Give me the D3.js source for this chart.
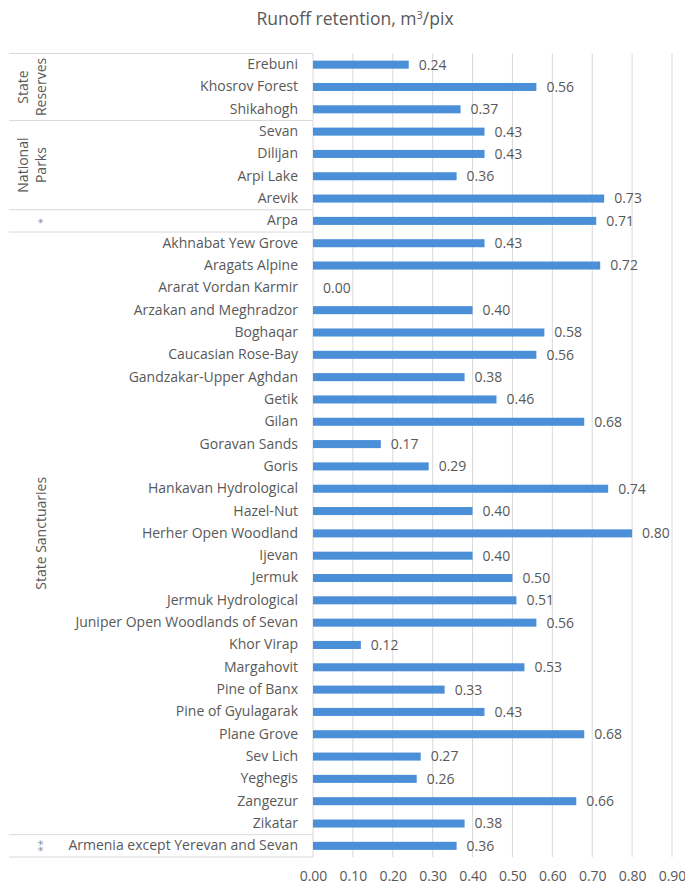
<!DOCTYPE html>
<html>
<head>
<meta charset="utf-8">
<script src="https://cdn.jsdelivr.net/npm/d3@7"></script>
<style>
  html, body { margin: 0; padding: 0; background: #fff; }
  text { font-family: "Open Sans", "Lato", sans-serif; fill: #595959; }
</style>
</head>
<body>
<svg id="chart" width="685" height="888"></svg>
<script>
const categories = [
  "Erebuni", "Khosrov Forest", "Shikahogh",
  "Sevan", "Dilijan", "Arpi Lake", "Arevik",
  "Arpa",
  "Akhnabat Yew Grove", "Aragats Alpine", "Ararat Vordan Karmir", "Arzakan and Meghradzor",
  "Boghaqar", "Caucasian Rose-Bay", "Gandzakar-Upper Aghdan", "Getik", "Gilan",
  "Goravan Sands", "Goris", "Hankavan Hydrological", "Hazel-Nut", "Herher Open Woodland",
  "Ijevan", "Jermuk", "Jermuk Hydrological", "Juniper Open Woodlands of Sevan", "Khor Virap",
  "Margahovit", "Pine of Banx", "Pine of Gyulagarak", "Plane Grove", "Sev Lich",
  "Yeghegis", "Zangezur", "Zikatar",
  "Armenia except Yerevan and Sevan"
];
const values = [
  0.24, 0.56, 0.37,
  0.43, 0.43, 0.36, 0.73,
  0.71,
  0.43, 0.72, 0.00, 0.40,
  0.58, 0.56, 0.38, 0.46, 0.68,
  0.17, 0.29, 0.74, 0.40, 0.80,
  0.40, 0.50, 0.51, 0.56, 0.12,
  0.53, 0.33, 0.43, 0.68, 0.27,
  0.26, 0.66, 0.38,
  0.36
];
const groupNames = [["State", "Reserves"], ["National", "Parks"], ["*"], ["State Sanctuaries"], ["**"]];
const groupCounts = [3, 4, 1, 27, 1];
const xTicks = [0, 0.1, 0.2, 0.3, 0.4, 0.5, 0.6, 0.7, 0.8, 0.9];
const title = "Runoff retention, m";

const svg = d3.select("#chart");
const x = d3.scaleLinear().domain([0, 0.9]).range([313, 672]);
const y = d3.scaleBand().domain(categories).range([53.5, 857]).paddingInner(0.64).paddingOuter(0.32);
const step = y.step();
const top0 = y.range()[0], bot0 = y.range()[1];
const grid = "#d9d9d9";
const fs = "14px";

// title
const t = svg.append("text").attr("x", 355).attr("y", 25).attr("text-anchor", "middle")
  .style("font-size", "17.5px").text(title);
t.append("tspan").attr("dy", -6).style("font-size", "11px").text("3");
t.append("tspan").attr("dy", 6).text("/pix");

// gridlines
svg.append("g").selectAll("line").data(xTicks).join("line")
  .attr("x1", d => x(d)).attr("x2", d => x(d))
  .attr("y1", top0).attr("y2", bot0)
  .attr("stroke", grid).attr("stroke-width", 1);

// x axis labels
const xAxis = d3.axisBottom(x).tickValues(xTicks).tickFormat(d3.format(".2f")).tickSize(0).tickPadding(0);
const gx = svg.append("g").attr("transform", `translate(0,${bot0 + 14})`).call(xAxis);
gx.select(".domain").remove();
gx.selectAll("text").style("font-size", fs).attr("fill", "#595959").style("font-family", "'Open Sans', sans-serif");

// y axis labels
const yAxis = d3.axisLeft(y).tickSize(0).tickPadding(15);
const gy = svg.append("g").attr("transform", `translate(${x(0)},0)`).call(yAxis);
gy.select(".domain").remove();
gy.selectAll("text").style("font-size", fs).attr("fill", "#595959").style("font-family", "'Open Sans', sans-serif");

// group separator lines
const bounds = [0];
groupCounts.forEach((c, i) => bounds.push(bounds[i] + c));
svg.append("g").selectAll("line").data(bounds).join("line")
  .attr("x1", 9).attr("x2", x(0))
  .attr("y1", d => top0 + d * step).attr("y2", d => top0 + d * step)
  .attr("stroke", grid).attr("stroke-width", 1);

// group labels
const gg = svg.append("g");
groupNames.forEach((lines, i) => {
  const yc = top0 + (bounds[i] + bounds[i + 1]) / 2 * step;
  const isStar = lines[0].startsWith("*");
  const xs = lines.length === 2 ? [23, 41] : [isStar ? 38 : 41];
  lines.forEach((ln, j) => {
    gg.append("text")
      .attr("transform", `translate(${xs[j]},${yc}) rotate(-90)`)
      .attr("text-anchor", "middle").attr("dy", isStar ? "0.75em" : "0.35em")
      .style("font-size", isStar ? "11px" : fs)
      .style("fill", isStar ? "#8c8c8c" : null)
      .text(ln);
  });
});

// bars
svg.append("g").selectAll("rect").data(categories).join("rect")
  .attr("x", x(0)).attr("y", d => y(d))
  .attr("width", (d, i) => x(values[i]) - x(0))
  .attr("height", y.bandwidth())
  .attr("fill", "#4a8fd8");

// value labels
svg.append("g").selectAll("text").data(categories).join("text")
  .attr("x", (d, i) => x(values[i]) + 10)
  .attr("y", d => y(d) + y.bandwidth() / 2)
  .attr("dy", "0.35em")
  .style("font-size", fs)
  .text((d, i) => d3.format(".2f")(values[i]));
</script>
</body>
</html>
